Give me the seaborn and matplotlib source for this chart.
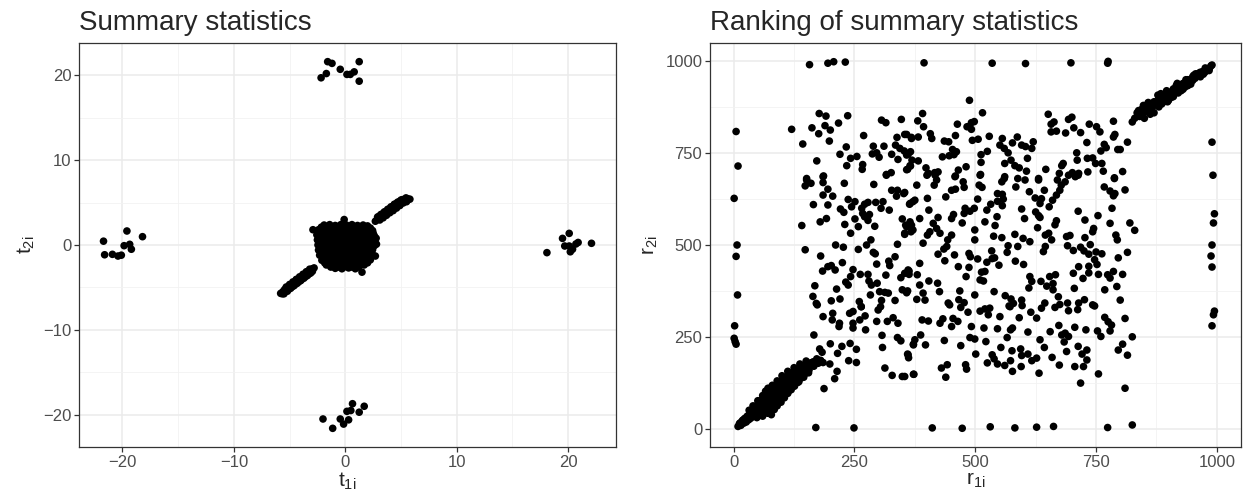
import matplotlib
matplotlib.use("Agg")
import matplotlib.pyplot as plt
import pandas as pd
import seaborn as sns
from matplotlib.ticker import FixedLocator

# ---------------- summary statistics (t1i, t2i) ----------------
# dense core around the origin
core_pts = [
    (-1.9, 2.35), (-1.4, 2.4), (-0.9, 2.3), (-0.4, 2.4), (0.1, 2.35), (0.6, 2.4), (1.1, 2.3), (1.6, 2.35), (2.0, 2.25),
    (-2.4, 1.8), (-1.9, 1.85), (-1.4, 1.75), (-0.9, 1.8), (-0.4, 1.85), (0.1, 1.75), (0.6, 1.8), (1.1, 1.85), (1.6, 1.75), (2.1, 1.8), (2.45, 1.7),
    (-2.55, 1.2), (-2.1, 1.25), (-1.6, 1.15), (-1.1, 1.2), (-0.6, 1.25), (-0.1, 1.15), (0.4, 1.2), (0.9, 1.25), (1.4, 1.15), (1.9, 1.2), (2.4, 1.25), (2.6, 1.1),
    (-2.5, 0.6), (-2.05, 0.65), (-1.6, 0.55), (-1.1, 0.6), (-0.6, 0.65), (-0.1, 0.55), (0.4, 0.6), (0.9, 0.65), (1.4, 0.55), (1.9, 0.6), (2.4, 0.65), (2.65, 0.5),
    (-2.45, 0.0), (-2.0, 0.05), (-1.55, -0.05), (-1.05, 0.0), (-0.55, 0.05), (-0.05, -0.05), (0.45, 0.0), (0.95, 0.05), (1.45, -0.05), (1.95, 0.0), (2.4, 0.05), (2.6, -0.1),
    (-2.4, -0.6), (-1.95, -0.55), (-1.5, -0.65), (-1.0, -0.6), (-0.5, -0.55), (0.0, -0.65), (0.5, -0.6), (1.0, -0.55), (1.5, -0.65), (2.0, -0.6), (2.45, -0.55),
    (-2.3, -1.2), (-1.85, -1.15), (-1.4, -1.25), (-0.9, -1.2), (-0.4, -1.15), (0.1, -1.25), (0.6, -1.2), (1.1, -1.15), (1.6, -1.25), (2.1, -1.2), (2.45, -1.15),
    (-2.1, -1.8), (-1.6, -1.75), (-1.1, -1.85), (-0.6, -1.8), (-0.1, -1.75), (0.4, -1.85), (0.9, -1.8), (1.4, -1.75), (1.9, -1.85), (2.25, -1.75),
    (-1.7, -2.35), (-1.2, -2.4), (-0.7, -2.3), (-0.2, -2.4), (0.3, -2.35), (0.8, -2.4), (1.3, -2.3), (1.7, -2.35),
    (-0.9, -2.75), (-0.3, -2.8), (0.3, -2.7), (0.9, -2.8),
    (-2.9, 1.8), (-0.1, 3.0), (1.5, -3.2), (2.77, 0.8), (2.8, 0.1), (2.7, -1.3),
]

# further core points lying between the ones above
core_fill_pts = [
    (-2.15, 2.1), (-1.65, 2.05), (-1.15, 2.1), (-0.65, 2.15), (-0.15, 2.05), (0.35, 2.1), (0.85, 2.15), (1.35, 2.05), (1.85, 2.1), (2.25, 2.0),
    (-2.35, 1.5), (-1.85, 1.45), (-1.35, 1.55), (-0.85, 1.5), (-0.35, 1.45), (0.15, 1.55), (0.65, 1.5), (1.15, 1.45), (1.65, 1.55), (2.15, 1.5), (2.5, 1.4),
    (-2.3, 0.9), (-1.8, 0.95), (-1.3, 0.85), (-0.8, 0.9), (-0.3, 0.95), (0.2, 0.85), (0.7, 0.9), (1.2, 0.95), (1.7, 0.85), (2.2, 0.9), (2.55, 0.85),
    (-2.25, 0.3), (-1.75, 0.35), (-1.25, 0.25), (-0.75, 0.3), (-0.25, 0.35), (0.25, 0.25), (0.75, 0.3), (1.25, 0.35), (1.75, 0.25), (2.2, 0.3),
    (-2.2, -0.3), (-1.7, -0.25), (-1.2, -0.35), (-0.7, -0.3), (-0.2, -0.25), (0.3, -0.35), (0.8, -0.3), (1.3, -0.25), (1.8, -0.35), (2.25, -0.3),
    (-2.15, -0.9), (-1.65, -0.85), (-1.15, -0.95), (-0.65, -0.9), (-0.15, -0.85), (0.35, -0.95), (0.85, -0.9), (1.35, -0.85), (1.85, -0.95), (2.3, -0.9),
    (-1.95, -1.5), (-1.45, -1.45), (-0.95, -1.55), (-0.45, -1.5), (0.05, -1.45), (0.55, -1.55), (1.05, -1.5), (1.55, -1.45), (2.05, -1.55),
    (-1.85, -2.1), (-1.35, -2.05), (-0.85, -2.15), (-0.35, -2.1), (0.15, -2.05), (0.65, -2.15), (1.15, -2.1), (1.6, -2.05), (2.0, -2.1),
    (-1.3, -2.6), (-0.6, -2.6), (0.0, -2.55), (0.6, -2.6), (1.2, -2.6),
]

# the two arms along the diagonal
arm_pts = [
    (-5.8, -5.7), (-5.6, -5.5), (-5.45, -5.25), (-5.3, -5.2), (-5.1, -4.95), (-4.95, -4.8), (-4.8, -4.7), (-4.6, -4.45),
    (-4.45, -4.35), (-4.3, -4.1), (-4.1, -4.0), (-3.95, -3.8), (-3.8, -3.65), (-3.6, -3.5), (-3.45, -3.3), (-3.3, -3.2),
    (-3.1, -2.95), (-2.95, -2.8), (-2.8, -2.7),
    (-5.5, -5.75), (-5.2, -5.45), (-4.9, -5.1), (-4.6, -4.8), (-4.3, -4.5), (-4.0, -4.2), (-3.7, -3.9), (-3.4, -3.6), (-3.1, -3.3),
    (-5.3, -4.95), (-5.0, -4.65), (-4.7, -4.35), (-4.4, -4.05), (-4.1, -3.75), (-3.8, -3.45), (-3.5, -3.15), (-3.2, -2.85),
    (-5.65, -5.75), (-5.35, -5.35), (-5.05, -5.2), (-4.75, -4.9), (-4.45, -4.6), (-4.15, -4.3), (-3.85, -4.0), (-3.55, -3.7),
    (-3.25, -3.4), (-2.95, -3.1),
    (2.7, 2.8), (2.9, 3.0), (3.05, 3.15), (3.2, 3.3), (3.4, 3.45), (3.55, 3.6), (3.7, 3.8), (3.9, 3.95), (4.05, 4.1),
    (4.2, 4.3), (4.4, 4.45), (4.55, 4.6), (4.7, 4.75), (4.9, 4.9), (5.05, 5.05), (5.2, 5.2), (5.4, 5.3), (5.6, 5.45), (5.8, 5.4),
    (2.9, 3.3), (3.2, 3.6), (3.5, 3.9), (3.8, 4.2), (4.1, 4.5), (4.4, 4.8), (4.7, 5.05), (5.0, 5.3),
    (3.1, 2.95), (3.4, 3.2), (3.7, 3.5), (4.0, 3.8), (4.3, 4.05), (4.6, 4.35), (4.9, 4.65), (5.2, 4.95), (5.5, 5.1),
    (3.05, 3.4), (3.35, 3.65), (3.65, 3.95), (3.95, 4.25), (4.25, 4.55), (4.55, 4.85), (4.85, 5.1), (5.15, 5.35), (5.45, 5.55),
]

# four small clusters far from the origin
outer_pts = [
    (-2.17, 19.7), (-1.7, 20.2), (-1.58, 21.6), (-1.19, 21.4), (-0.45, 20.7), (0.15, 20.1), (0.45, 20.1), (0.8, 20.4), (1.25, 21.6), (1.25, 19.3),
    (-2.0, -20.5), (-1.13, -21.6), (-0.45, -20.5), (-0.15, -21.1), (0.3, -20.6), (0.15, -19.6), (0.5, -19.5), (0.65, -18.7), (1.25, -19.7), (1.7, -19.0),
    (-19.6, 1.65), (-18.2, 0.98), (-19.85, -0.08), (-19.35, 0.08), (-19.2, -0.5), (-20.1, -1.2), (-21.7, 0.45), (-21.6, -1.15), (-20.9, -1.1), (-20.4, -1.3),
    (18.1, -0.9), (19.5, 0.78), (20.1, 1.37), (19.7, -0.12), (20.1, -0.12), (20.4, -0.5), (20.2, -0.8), (20.7, 0.12), (20.9, 0.3), (22.1, 0.2),
]

# ---------------- ranks (r1i, r2i) ----------------
rank_low_band = [
    (9, 6), (12, 14), (15, 9), (18, 22), (21, 15), (23, 28), (26, 18), (28, 34), (31, 24), (33, 40), (35, 28), (37, 48),
    (40, 33), (42, 56), (45, 38), (47, 62), (50, 42), (52, 70), (55, 48), (57, 78), (60, 34), (60, 55), (62, 85), (65, 60),
    (67, 92), (70, 42), (70, 66), (71, 110), (74, 100), (76, 72), (78, 38), (80, 108), (82, 80), (84, 52), (86, 116), (88, 86),
    (90, 62), (92, 122), (94, 94), (96, 128), (98, 72), (100, 102), (102, 134), (105, 84), (107, 112), (109, 140), (112, 96),
    (114, 120), (116, 146), (119, 106), (121, 130), (123, 152), (126, 116), (128, 138), (130, 158), (133, 126), (135, 148),
    (138, 164), (140, 138), (142, 156), (145, 170), (148, 150), (150, 166), (153, 176), (156, 160), (159, 172), (162, 180),
    (166, 170), (170, 184), (175, 178), (180, 186), (185, 180),
    (14, 16), (20, 24), (25, 23), (30, 30), (36, 35), (41, 44), (46, 47), (51, 53), (56, 58), (61, 64), (66, 70), (72, 75),
    (77, 84), (83, 89), (88, 97), (93, 103), (98, 109), (104, 115), (110, 123), (116, 128), (122, 137), (128, 144),
    (134, 150), (140, 158), (146, 162), (152, 170), (158, 178), (165, 182), (172, 190),
    (48, 30), (58, 42), (65, 48), (75, 58), (85, 68), (95, 80), (105, 92), (115, 104), (125, 116), (135, 128), (145, 140),
    (155, 152), (32, 50), (40, 62), (50, 76), (60, 90), (66, 102), (80, 118), (90, 130), (100, 144), (112, 156), (125, 166),
    (137, 176), (150, 184),
]

rank_high_band = [
    (830, 845), (835, 860), (840, 850), (845, 870), (850, 862), (855, 876), (860, 880), (865, 870), (870, 890), (875, 884),
    (880, 900), (885, 895), (890, 906), (895, 900), (900, 916), (905, 910), (910, 925), (915, 918), (920, 932), (925, 927),
    (930, 940), (935, 937), (940, 950), (945, 945), (950, 958), (955, 954), (960, 966), (965, 962), (970, 972), (975, 970),
    (980, 980), (985, 982), (988, 988), (870, 860), (880, 876), (900, 894), (920, 914), (940, 934), (860, 868), (890, 890),
    (910, 904), (930, 924), (950, 948), (965, 970),
    (825, 835), (838, 866), (850, 845), (858, 888), (868, 878), (878, 908), (886, 884), (896, 920), (906, 902), (916, 934),
    (926, 920), (936, 950), (946, 938), (956, 966), (966, 958), (976, 982), (984, 975), (990, 990), (848, 880), (862, 856),
    (884, 912), (898, 890), (918, 940), (934, 930), (952, 962), (972, 965),
]

rank_top_row = [
    (157, 991), (195, 995), (207, 999), (231, 998), (394, 996), (535, 995), (604, 994), (698, 996), (774, 995), (775, 1000),
]

rank_bottom_row = [
    (170, 3), (249, 2), (411, 2), (473, 1), (531, 5), (582, 2), (627, 4), (662, 6), (774, 3), (825, 10),
]

rank_left_col = [
    (5, 809), (9, 715), (1, 627), (7, 500), (5, 469), (8, 364), (2, 280), (1, 246), (3, 237), (5, 230),
]

rank_right_col = [
    (990, 780), (992, 690), (995, 585), (993, 560), (990, 500), (988, 470), (990, 440), (995, 320), (993, 310), (990, 280),
]

rank_upper_mid = [
    (120, 815), (143, 775), (177, 858), (191, 851), (162, 819), (176, 803), (189, 825), (200, 813), (198, 783), (217, 832),
    (236, 852), (172, 729), (151, 681), (186, 688), (220, 747), (233, 767), (234, 716), (242, 736), (255, 741), (267, 719),
    (266, 706), (269, 798), (289, 769), (287, 748), (296, 751), (301, 739), (306, 840), (315, 833), (311, 769), (327, 747),
    (338, 793), (347, 842), (354, 801), (368, 790), (335, 772), (344, 763), (353, 756), (361, 747), (340, 733), (316, 692),
    (326, 697), (358, 705), (366, 715),
    (488, 894), (391, 858), (515, 860), (381, 838), (393, 822), (463, 829), (483, 822), (492, 833), (498, 836), (492, 815),
    (358, 801), (368, 793), (382, 794), (407, 803), (410, 790), (459, 798), (436, 783), (445, 781), (494, 785), (506, 788),
    (529, 796), (453, 760), (461, 754), (456, 746), (432, 740), (446, 743), (366, 754), (358, 745), (369, 731), (382, 729),
    (365, 716), (360, 706), (398, 710), (403, 695), (416, 697), (423, 699), (459, 688), (465, 704), (481, 713), (512, 725),
    (512, 746), (525, 755), (511, 692), (556, 790), (551, 772), (560, 763), (568, 751), (577, 778), (587, 794), (596, 772),
    (604, 768), (617, 763), (620, 781), (608, 736), (561, 722), (574, 731), (582, 716), (591, 710), (606, 701), (561, 686),
    (631, 681), (646, 706), (651, 856), (657, 829), (663, 835), (657, 808), (668, 810), (687, 805), (693, 842), (700, 848),
    (704, 819), (718, 806), (736, 829), (751, 822), (758, 808), (731, 779), (786, 837), (789, 801), (786, 794), (767, 774),
    (771, 765), (760, 756), (710, 751), (711, 731), (732, 736), (743, 737), (749, 722), (762, 722), (682, 722), (679, 716),
    (674, 695), (701, 697), (714, 695), (733, 699), (765, 701), (788, 683), (795, 760),
]

rank_center = [
    (151, 677), (160, 668), (148, 661), (185, 686), (185, 670), (195, 652), (185, 636), (205, 633), (229, 668), (290, 665),
    (316, 690), (165, 610), (195, 609), (237, 624), (251, 618), (244, 604), (265, 600), (271, 611), (278, 616), (267, 586),
    (294, 616), (309, 618), (305, 600), (322, 595), (327, 649), (339, 649), (337, 633), (352, 640), (364, 611), (371, 618),
    (221, 598), (228, 589), (141, 553), (179, 563), (192, 572), (230, 556), (242, 532), (251, 571), (258, 550), (271, 577),
    (281, 583), (278, 567), (292, 551), (349, 571), (356, 554), (368, 554), (354, 529), (367, 536), (148, 487), (180, 470),
    (211, 500), (227, 494), (258, 488), (275, 500), (284, 514), (289, 480), (293, 476), (339, 502), (334, 468), (296, 448),
    (321, 456), (323, 444), (184, 429), (195, 441), (202, 444), (210, 432), (225, 452), (247, 433), (242, 414), (262, 420),
    (278, 420), (280, 402), (285, 391), (297, 396), (302, 373), (315, 418), (346, 411), (363, 429), (363, 420), (168, 389),
    (213, 380), (232, 399), (237, 391), (164, 360), (171, 341), (202, 348), (220, 353), (260, 346), (264, 332), (283, 364),
    (306, 349), (313, 371), (320, 369), (304, 332), (334, 349), (349, 378), (358, 370), (247, 319),
    (379, 663), (354, 643), (365, 613), (375, 622), (401, 627), (400, 690), (415, 663), (420, 677), (417, 690), (439, 631),
    (451, 649), (459, 652), (458, 686), (475, 672), (477, 657), (510, 690), (508, 663), (514, 657), (505, 625), (524, 595),
    (532, 611), (546, 640), (556, 638), (546, 619), (558, 625), (556, 607), (560, 681), (555, 672), (588, 681), (584, 658),
    (603, 677), (612, 645), (631, 677), (624, 628), (637, 626), (634, 613), (643, 649), (653, 604), (660, 622), (668, 636),
    (675, 649), (678, 663), (670, 677), (686, 672), (693, 690), (707, 686), (713, 690), (767, 658), (788, 681), (779, 647),
    (789, 640), (786, 634), (365, 563), (358, 550), (371, 541), (354, 532), (385, 572), (404, 595), (423, 575), (413, 559),
    (420, 545), (427, 532), (406, 536), (401, 527), (392, 505), (443, 514), (441, 496), (451, 527), (455, 583), (451, 572),
    (473, 560), (479, 600), (489, 592), (498, 600), (477, 586), (499, 541), (499, 514), (520, 563), (541, 553), (538, 524),
    (555, 520), (545, 577), (582, 529), (599, 518), (613, 509), (588, 496), (568, 498), (596, 598), (602, 572), (625, 590),
    (631, 580), (634, 575), (629, 547), (645, 527), (652, 532), (668, 566), (665, 555), (658, 514), (645, 496), (641, 482),
    (689, 523), (696, 526), (691, 498), (703, 485), (718, 494), (713, 592), (727, 568), (754, 580), (745, 545), (743, 536),
    (727, 520), (738, 501), (725, 484), (735, 475), (750, 481), (762, 476), (779, 559), (783, 600), (791, 527), (794, 514),
    (423, 475), (435, 489), (457, 473), (437, 457), (487, 477), (490, 468), (505, 462), (534, 484), (535, 463), (524, 453),
    (540, 465), (549, 445), (566, 480), (583, 456), (600, 447), (385, 450), (361, 432), (354, 423), (380, 419), (385, 391),
    (404, 402), (422, 396), (426, 373), (465, 441), (487, 439), (481, 414), (513, 426), (520, 428), (517, 402), (510, 405),
    (499, 364), (539, 373), (468, 375), (466, 351), (477, 343), (444, 342), (379, 352), (396, 350), (562, 362), (574, 353),
    (579, 341), (570, 334), (596, 350), (597, 335), (613, 414), (617, 401), (611, 383), (636, 401), (648, 388), (654, 414),
    (661, 395), (666, 419), (661, 378), (644, 342), (672, 359), (675, 338), (691, 342), (705, 382), (703, 423), (714, 441),
    (723, 409), (735, 424), (735, 442), (747, 460), (752, 447), (755, 420), (774, 419), (779, 410), (768, 378), (796, 465),
    (786, 428), (793, 387), (714, 342), (726, 351), (743, 337), (360, 375), (392, 369),
]

rank_lower_mid = [
    (173, 337), (185, 305), (205, 314), (204, 296), (219, 287), (218, 278), (240, 314), (247, 287), (261, 296), (272, 307),
    (264, 332), (247, 274), (273, 269), (299, 323), (296, 292), (318, 292), (330, 302), (340, 287), (307, 254), (339, 248),
    (346, 239), (372, 230), (308, 221), (360, 203), (362, 193), (313, 165), (328, 145), (349, 142), (372, 148), (166, 255),
    (178, 217), (183, 208), (200, 231), (224, 224), (215, 205), (241, 232), (254, 216), (238, 185), (254, 180), (199, 176),
    (214, 156), (209, 136), (187, 109),
    (447, 337), (470, 330), (485, 317), (510, 320), (520, 326), (530, 328), (527, 310), (551, 305), (572, 332), (591, 302),
    (615, 317), (627, 301), (637, 328), (665, 330), (693, 321), (712, 324), (747, 334), (390, 296), (403, 293), (427, 287),
    (433, 299), (454, 300), (464, 292), (451, 278), (492, 278), (518, 274), (546, 272), (573, 269), (577, 274), (609, 263),
    (655, 264), (673, 281), (706, 276), (729, 269), (753, 266), (760, 251), (768, 303), (775, 291), (782, 282), (779, 266),
    (387, 255), (375, 242), (372, 228), (397, 228), (436, 240), (470, 226), (489, 248), (499, 244), (522, 237), (501, 203),
    (566, 248), (553, 221), (535, 201), (539, 190), (525, 179), (546, 176), (561, 172), (573, 185), (576, 212), (594, 217),
    (596, 199), (609, 203), (595, 169), (577, 156), (617, 185), (627, 192), (634, 242), (643, 221), (659, 194), (674, 173),
    (632, 151), (679, 255), (686, 260), (693, 251), (684, 236), (689, 210), (713, 224), (721, 203), (731, 214), (731, 187),
    (724, 169), (706, 169), (718, 124), (755, 149), (796, 214), (361, 201), (354, 142), (373, 148), (430, 165), (442, 174),
    (439, 140), (480, 174), (482, 162),
]

rank_right_mid = [
    (805, 700), (810, 650), (820, 560), (815, 480), (805, 420), (830, 540), (800, 350), (810, 300), (825, 250), (805, 230),
    (815, 200), (810, 110), (800, 760), (815, 780),
]


def frame(points, xname, yname):
    return pd.DataFrame(points, columns=[xname, yname])


summary_df = pd.concat(
    [frame(p, "t1", "t2") for p in (core_pts, core_fill_pts, arm_pts, outer_pts)], ignore_index=True
)
rank_df = pd.concat(
    [frame(p, "r1", "r2") for p in (rank_low_band, rank_high_band, rank_top_row, rank_bottom_row,
                                    rank_left_col, rank_right_col, rank_upper_mid, rank_center,
                                    rank_lower_mid, rank_right_mid)],
    ignore_index=True,
)

sns.set_theme(style="white")
plt.rcParams["font.family"] = ["Liberation Sans", "DejaVu Sans"]
plt.rcParams["mathtext.default"] = "regular"

fig = plt.figure(figsize=(12.46, 4.99), dpi=100)
W, H = 1246, 499
ax1 = fig.add_axes([79 / W, 1 - 447 / H, 537 / W, 404 / H])
ax2 = fig.add_axes([710 / W, 1 - 447 / H, 531 / W, 404 / H])


def style_axis(ax, major, minor, xlim, ylim, majory, minory):
    ax.set_xlim(*xlim)
    ax.set_ylim(*ylim)
    ax.xaxis.set_major_locator(FixedLocator(major))
    ax.xaxis.set_minor_locator(FixedLocator(minor))
    ax.yaxis.set_major_locator(FixedLocator(majory))
    ax.yaxis.set_minor_locator(FixedLocator(minory))
    ax.grid(True, which="major", color="#EBEBEB", linewidth=1.1)
    ax.grid(True, which="minor", color="#F2F2F2", linewidth=0.6)
    ax.set_axisbelow(True)
    for sp in ax.spines.values():
        sp.set_color("#333333")
        sp.set_linewidth(0.9)
    ax.tick_params(which="major", direction="out", length=3.5, width=0.9, color="#333333",
                   labelsize=12, labelcolor="#4D4D4D", bottom=True, left=True, pad=2)
    ax.tick_params(which="minor", length=0, bottom=False, left=False)


DOT = 30

sns.scatterplot(data=summary_df, x="t1", y="t2", ax=ax1, color="black", s=DOT,
                linewidth=0, edgecolor="none")
style_axis(ax1, [-20, -10, 0, 10, 20], [-15, -5, 5, 15], (-23.9, 24.3), (-23.8, 23.8),
           [-20, -10, 0, 10, 20], [-15, -5, 5, 15])
ax1.set_xlabel("$t_{1i}$", fontsize=15, labelpad=1)
ax1.set_ylabel("$t_{2i}$", fontsize=15, labelpad=4)
ax1.set_title("Summary statistics", loc="left", fontsize=20, pad=9)

sns.scatterplot(data=rank_df, x="r1", y="r2", ax=ax2, color="black", s=DOT,
                linewidth=0, edgecolor="none")
style_axis(ax2, [0, 250, 500, 750, 1000], [125, 375, 625, 875], (-49, 1050), (-50, 1050),
           [0, 250, 500, 750, 1000], [125, 375, 625, 875])
ax2.set_xlabel("$r_{1i}$", fontsize=15, labelpad=1)
ax2.set_ylabel("$r_{2i}$", fontsize=15, labelpad=4)
ax2.set_title("Ranking of summary statistics", loc="left", fontsize=20, pad=9)

fig.savefig("out.png", dpi=100)
